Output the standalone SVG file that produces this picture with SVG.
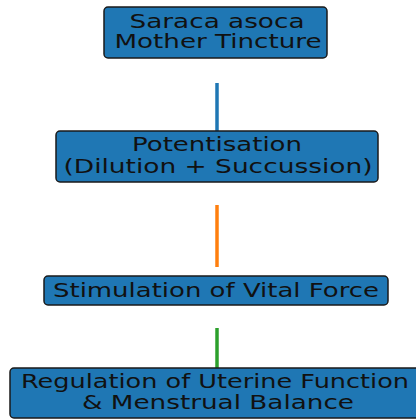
<svg xmlns="http://www.w3.org/2000/svg" width="416" height="420" viewBox="0 0 416 420">
<style>
.box{fill:#1f77b4;stroke:#1a1a1a;stroke-width:1.5}
.t{font-family:"DejaVu Sans",sans-serif;font-size:18.8px;fill:#111;text-anchor:middle}
.c{stroke-width:3.5;fill:none}
</style>
<rect width="416" height="420" fill="#fff"/>
<g id="connectors">
<line class="c" x1="217" y1="83" x2="217" y2="131" stroke="#1f77b4"/>
<line class="c" x1="217" y1="205" x2="217" y2="267" stroke="#ff7f0e"/>
<line class="c" x1="217" y1="328" x2="217" y2="368" stroke="#2ca02c"/>
</g>
<g id="n1">
<rect class="box" x="104" y="7" width="223" height="51" rx="4"/>
<text class="t" x="217" y="28" textLength="175" lengthAdjust="spacingAndGlyphs">Saraca asoca</text>
<text class="t" x="218" y="48" textLength="207" lengthAdjust="spacingAndGlyphs">Mother Tincture</text>
</g>
<g id="n2">
<rect class="box" x="56" y="131" width="322" height="51" rx="4"/>
<text class="t" x="217" y="151" textLength="170" lengthAdjust="spacingAndGlyphs">Potentisation</text>
<text class="t" x="218" y="173" textLength="309" lengthAdjust="spacingAndGlyphs">(Dilution + Succussion)</text>
</g>
<g id="n3">
<rect class="box" x="44" y="276" width="344" height="29" rx="4"/>
<text class="t" x="216" y="297" textLength="326" lengthAdjust="spacingAndGlyphs">Stimulation of Vital Force</text>
</g>
<g id="n4">
<rect class="box" x="10" y="368" width="414" height="50" rx="4"/>
<text class="t" x="215" y="388" textLength="388" lengthAdjust="spacingAndGlyphs">Regulation of Uterine Function</text>
<text class="t" x="218" y="409" textLength="272" lengthAdjust="spacingAndGlyphs">&amp; Menstrual Balance</text>
</g>
</svg>
